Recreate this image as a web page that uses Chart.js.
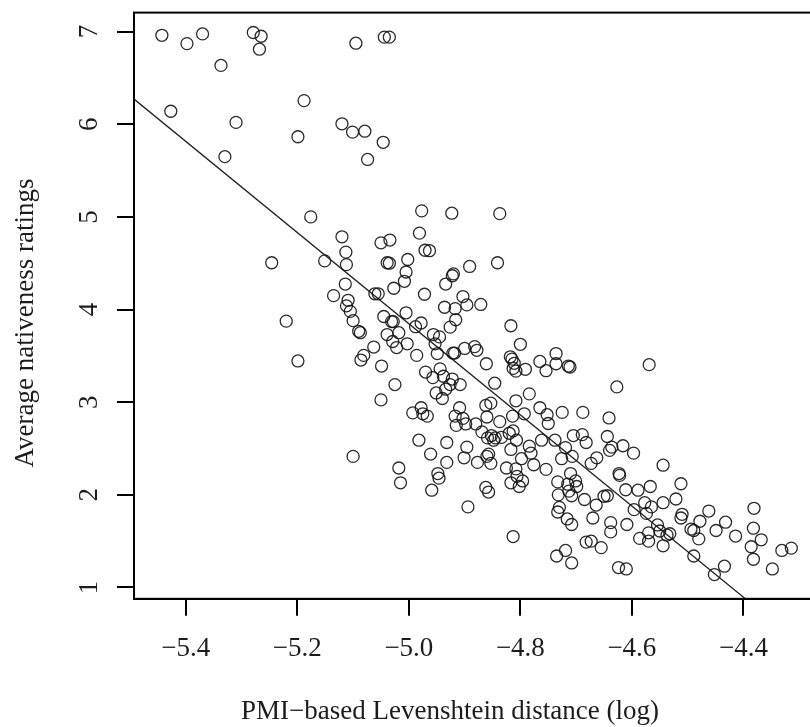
<!DOCTYPE html>
<html>
<head>
<meta charset="utf-8">
<script src="https://cdn.jsdelivr.net/npm/chart.js@4/dist/chart.umd.min.js"></script>
<style>
html, body { margin: 0; padding: 0; background: #fff; overflow: hidden; }
#wrap { position: absolute; left: 0; top: 0; width: 870px; height: 727px; }
</style>
</head>
<body>
<div id="wrap"><canvas id="myChart" width="870" height="727"></canvas></div>
<script>
'use strict'
// PMI-based Levenshtein distance (log)
const distance = [
    -5.443, -5.398, -5.370, -5.279, -5.265, -5.268, -5.337, -5.095, -5.044, -5.035,
    -5.427, -5.310, -5.188, -5.199, -5.120, -5.101, -5.079, -5.046, -5.074, -5.330,
    -5.176, -5.246, -5.151, -5.120, -5.113, -5.112, -5.114, -5.135, -5.109, -5.112,
    -5.105, -5.100, -5.090, -5.087, -5.220, -5.199, -5.086, -5.081, -5.063, -5.100,
    -5.049, -5.050, -5.025, -5.061, -5.055, -5.050, -5.034, -5.039, -5.035, -5.027,
    -5.045, -5.031, -5.028, -5.039, -5.018, -5.029, -5.022, -5.005, -5.003, -5.008,
    -5.005, -5.002, -4.981, -4.977, -4.971, -4.963, -4.972, -4.986, -4.978, -4.988,
    -4.970, -4.956, -4.953, -4.949, -4.945, -4.957, -4.951, -4.940, -4.944, -4.938,
    -4.934, -4.926, -4.922, -4.934, -4.936, -4.922, -4.920, -4.923, -4.917, -4.916,
    -4.926, -4.921, -4.918, -4.908, -4.891, -4.903, -4.896, -4.900, -4.882, -4.878,
    -4.871, -4.861, -4.846, -4.841, -4.837, -4.993, -4.978, -4.975, -4.967, -4.982,
    -4.961, -4.948, -4.946, -4.959, -4.932, -4.932, -5.018, -5.015, -4.917, -4.915,
    -4.909, -4.903, -4.898, -4.896, -4.901, -4.894, -4.880, -4.877, -4.869, -4.862,
    -4.860, -4.859, -4.860, -4.857, -4.862, -4.857, -4.853, -4.852, -4.848, -4.845,
    -4.853, -4.837, -4.834, -4.825, -4.820, -4.817, -4.817, -4.817, -4.818, -4.815,
    -4.811, -4.813, -4.808, -4.800, -4.791, -4.813, -4.814, -4.813, -4.808, -4.808,
    -4.807, -4.806, -4.802, -4.796, -4.798, -4.793, -4.784, -4.784, -4.781, -4.776,
    -4.765, -4.754, -4.765, -4.762, -4.752, -4.750, -4.754, -4.736, -4.736, -4.738,
    -4.733, -4.732, -4.730, -4.733, -4.735, -4.725, -4.726, -4.719, -4.714, -4.711,
    -4.710, -4.715, -4.713, -4.708, -4.705, -4.707, -4.716, -4.708, -4.719, -4.708,
    -4.701, -4.699, -4.689, -4.682, -4.688, -4.685, -4.682, -4.673, -4.673, -4.670,
    -4.663, -4.664, -4.655, -4.650, -4.644, -4.644, -4.641, -4.640, -4.638, -4.638,
    -4.636, -4.627, -4.623, -4.622, -4.616, -4.624, -4.610, -4.609, -4.611, -4.597,
    -4.596, -4.589, -4.586, -4.577, -4.574, -4.570, -4.570, -4.569, -4.567, -4.565,
    -4.554, -4.550, -4.544, -4.544, -4.544, -4.537, -4.532, -4.521, -4.512, -4.512,
    -4.510, -4.494, -4.489, -4.489, -4.480, -4.478, -4.462, -4.452, -4.449, -4.434,
    -4.432, -4.414, -4.386, -4.381, -4.382, -4.382, -4.368, -4.348, -4.331, -4.314
];
// Average nativeness ratings, same order
const rating = [
    6.96, 6.87, 6.975, 6.99, 6.95, 6.81, 6.635, 6.875, 6.94, 6.94,
    6.14, 6.02, 6.255, 5.865, 6.005, 5.915, 5.925, 5.805, 5.62, 5.65,
    5.0, 4.505, 4.525, 4.785, 4.62, 4.485, 4.275, 4.15, 4.1, 4.04,
    3.98, 3.88, 3.765, 3.75, 3.875, 3.445, 3.455, 3.505, 3.595, 2.415,
    3.39, 3.025, 3.19, 4.17, 4.17, 4.72, 4.75, 4.505, 4.5, 4.23,
    3.925, 3.87, 3.87, 3.73, 3.75, 3.655, 3.59, 3.965, 3.63, 4.305,
    4.405, 4.54, 4.825, 5.065, 4.64, 4.635, 4.165, 3.505, 3.855, 3.815,
    3.325, 3.73, 3.63, 3.525, 3.705, 3.265, 3.1, 3.04, 3.36, 3.28,
    3.14, 3.19, 3.25, 4.275, 4.025, 4.365, 4.385, 5.04, 4.01, 3.89,
    3.81, 3.53, 3.53, 3.19, 4.465, 4.14, 4.05, 3.58, 3.6, 3.56,
    4.055, 3.415, 3.205, 4.505, 5.035, 2.885, 2.94, 2.875, 2.85, 2.59,
    2.44, 2.23, 2.18, 2.05, 2.35, 2.565, 2.29, 2.13, 2.85, 2.75,
    2.94, 2.825, 2.765, 2.515, 2.4, 1.87, 2.765, 2.35, 2.68, 2.965,
    2.84, 2.615, 2.415, 2.44, 2.08, 2.03, 2.99, 2.64, 2.59, 2.615,
    2.34, 2.79, 2.62, 2.29, 2.665, 2.49, 2.13, 3.825, 3.49, 3.465,
    3.42, 3.365, 3.335, 3.625, 3.355, 2.69, 2.85, 1.55, 3.015, 2.28,
    2.59, 2.2, 2.09, 2.15, 2.39, 2.875, 3.09, 2.525, 2.45, 2.325,
    3.44, 3.34, 2.94, 2.59, 2.865, 2.77, 2.275, 3.525, 3.415, 2.59,
    2.14, 2.0, 1.865, 1.815, 1.34, 2.89, 2.39, 2.51, 3.39, 3.38,
    2.23, 2.115, 2.04, 1.99, 2.64, 2.415, 1.74, 1.68, 1.4, 1.265,
    2.15, 2.09, 2.65, 2.565, 2.89, 1.95, 1.49, 1.5, 2.34, 1.75,
    2.4, 1.89, 1.43, 1.985, 1.99, 2.63, 2.83, 2.48, 1.7, 1.6,
    2.515, 3.165, 2.23, 2.21, 2.53, 1.215, 1.2, 1.68, 2.055, 2.45,
    1.84, 2.05, 1.53, 1.915, 1.8, 1.5, 1.59, 3.405, 2.09, 1.87,
    1.675, 1.61, 2.32, 1.915, 1.45, 1.565, 1.58, 1.955, 2.12, 1.75,
    1.79, 1.63, 1.615, 1.34, 1.525, 1.715, 1.825, 1.14, 1.615, 1.23,
    1.705, 1.555, 1.44, 1.855, 1.64, 1.305, 1.515, 1.2, 1.4, 1.425
];
const xTicks = [-5.4, -5.2, -5.0, -4.8, -4.6, -4.4];
const yTicks = [1, 2, 3, 4, 5, 6, 7];
const xRange = [-5.493, -4.186];
const yRange = [0.878, 7.205];
// fitted line (abline)
const fitIntercept = -20.748;
const fitSlope = -4.919;
const xTitle = 'PMI\u2212based Levenshtein distance (log)';
const yTitle = 'Average nativeness ratings';

const serif = '"Liberation Serif", "Times New Roman", serif';
const ink = '#1c1c1c';

function fmtTick(v) {
    return (v < 0 ? '\u2212' : '') + Math.abs(v).toFixed(1);
}

// box, rotated y labels and axis titles like base R graphics
const rAxes = {
    id: 'rAxes',
    afterDraw(chart) {
        const {ctx, chartArea: a, scales} = chart;
        ctx.save();
        ctx.strokeStyle = '#000';
        ctx.lineWidth = 2;
        ctx.strokeRect(a.left, a.top, a.right - a.left, a.bottom - a.top);
        ctx.fillStyle = ink;
        ctx.font = '27px ' + serif;
        ctx.textAlign = 'center';
        ctx.textBaseline = 'alphabetic';
        for (let t of scales.y.ticks) {
            ctx.save();
            ctx.translate(97, scales.y.getPixelForValue(t.value));
            ctx.rotate(-Math.PI / 2);
            ctx.fillText(String(t.value), 0, 0);
            ctx.restore();
        }
        ctx.fillText(xTitle, 450, 719);
        ctx.save();
        ctx.translate(33, 323);
        ctx.rotate(-Math.PI / 2);
        ctx.fillText(yTitle, 0, 0);
        ctx.restore();
        ctx.restore();
    }
};

const points = distance.map((d, i) => ({x: d, y: rating[i]}));
const fitLine = xRange.map(x => ({x: x, y: fitIntercept + fitSlope * x}));

const ctx = document.getElementById('myChart').getContext('2d');
const myChart = new Chart(ctx, {
    type: 'scatter',
    data: {
        datasets: [{
            data: points,
            pointRadius: 6,
            pointHoverRadius: 6,
            borderWidth: 1.3,
            borderColor: 'rgba(20,20,20,0.9)',
            backgroundColor: 'rgba(0,0,0,0)'
        }, {
            type: 'line',
            data: fitLine,
            borderColor: '#222',
            borderWidth: 1.3,
            pointRadius: 0,
            fill: false
        }]
    },
    options: {
        responsive: false,
        animation: false,
        events: [],
        layout: {padding: {top: 12.6, right: 4, bottom: 0, left: 0}},
        plugins: {legend: {display: false}, tooltip: {enabled: false}},
        scales: {
            x: {
                type: 'linear',
                min: xRange[0],
                max: xRange[1],
                afterBuildTicks: s => { s.ticks = xTicks.map(v => ({value: v})); },
                afterFit: s => { s.height = 128.2; },
                grid: {drawOnChartArea: false, drawTicks: true, tickLength: 17, color: '#000', lineWidth: 2},
                border: {display: true, color: '#000', width: 2},
                ticks: {
                    color: ink,
                    font: {family: serif, size: 27},
                    padding: 17,
                    autoSkip: false,
                    maxRotation: 0,
                    callback: v => fmtTick(v)
                }
            },
            y: {
                type: 'linear',
                min: yRange[0],
                max: yRange[1],
                afterBuildTicks: s => { s.ticks = yTicks.map(v => ({value: v})); },
                afterFit: s => { s.width = 134; },
                grid: {drawOnChartArea: false, drawTicks: true, tickLength: 17, color: '#000', lineWidth: 2},
                border: {display: true, color: '#000', width: 2},
                ticks: {display: false}
            }
        }
    },
    plugins: [rAxes]
});
</script>
</body>
</html>
